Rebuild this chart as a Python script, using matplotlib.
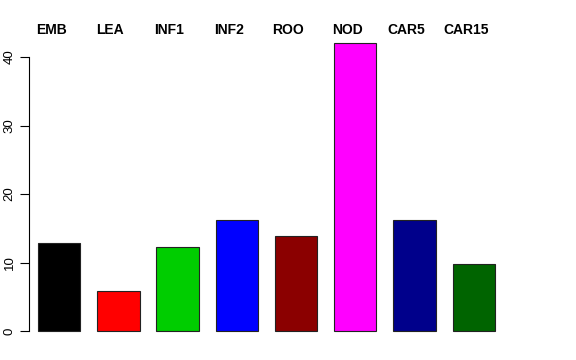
import numpy as np
import matplotlib
matplotlib.use("Agg")
import matplotlib.pyplot as plt

tissues = ["EMB", "LEA", "INF1", "INF2", "ROO", "NOD", "CAR5", "CAR15"]
values = [12.9, 5.8, 12.3, 16.2, 13.8, 42.1, 16.2, 9.8]
colors = ["#000000", "#FF0000", "#00CD00", "#0000FF", "#8B0000", "#FF00FF", "#00008B", "#006400"]
yticks = [0, 10, 20, 30, 40]

plt.rcParams['font.family'] = ['Liberation Sans', 'DejaVu Sans']

def main():
    fig = plt.figure(figsize=(5.76, 3.6), dpi=100)
    ax = fig.add_axes([29/576, 17.5/360, (513-29)/576, (342.5-31)/360])

    # R barplot style: width 1, space 0.4
    x = 0.9 + 1.4*np.arange(len(values))
    ax.bar(x, values, width=1.0, color=colors, edgecolor="#222222", linewidth=0.8)

    ax.set_xlim(0.187, 11.63)
    ax.set_ylim(-1.68, 43.8)

    for s in ["top", "right", "bottom"]:
        ax.spines[s].set_visible(False)
    ax.spines["left"].set_bounds(0, 40)
    ax.spines["left"].set_linewidth(0.8)
    ax.set_xticks([])
    ax.set_yticks(yticks)
    ax.set_yticklabels([str(t) for t in yticks], rotation=90, va="center", fontsize=9.5)
    ax.tick_params(axis="y", length=6.5, width=0.8, pad=3)

    for xi, name in zip(x, tissues):
        ax.text(xi - 0.19, 43.9, name, ha="center", va="center",
                fontsize=10, fontweight="bold", clip_on=False)

    fig.savefig("out.png", dpi=100)

if __name__ == "__main__":
    main()
